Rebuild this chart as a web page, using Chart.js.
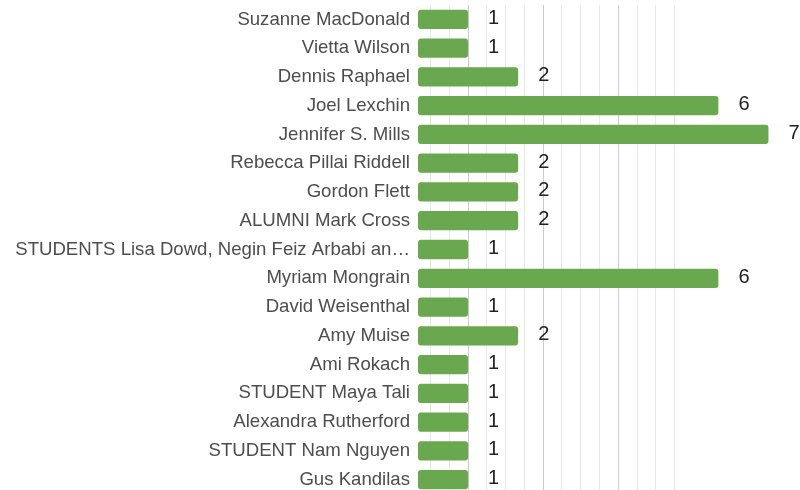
<!DOCTYPE html>
<html><head><meta charset="utf-8">
<script src="https://cdn.jsdelivr.net/npm/chart.js@4/dist/chart.umd.min.js"></script>
<style>html,body{margin:0;padding:0;background:#fff;overflow:hidden}</style>
</head><body><canvas id="c" width="800" height="494"></canvas>
<script>
const categories = ["Suzanne MacDonald","Vietta Wilson","Dennis Raphael","Joel Lexchin","Jennifer S. Mills","Rebecca Pillai Riddell","Gordon Flett","ALUMNI Mark Cross","STUDENTS Lisa Dowd, Negin Feiz Arbabi an\u2026","Myriam Mongrain","David Weisenthal","Amy Muise","Ami Rokach","STUDENT Maya Tali","Alexandra Rutherford","STUDENT Nam Nguyen","Gus Kandilas"];
const values = [1,1,2,6,7,2,2,2,1,6,1,2,1,1,1,1,1];
const gridValues = [0.25,0.625,1,1.375,1.75,2.125,2.5,2.875,3.25,3.625,4,4.375,4.75,5.125];
const majorGridValues = [1,2.5,4];

const valueLabels = {
  id:'valueLabels',
  afterDatasetsDraw(chart){
    const ctx = chart.ctx;
    const meta = chart.getDatasetMeta(0);
    ctx.save();
    ctx.font = '20px "Liberation Sans", Arial, sans-serif';
    ctx.fillStyle = '#222222';
    ctx.textAlign = 'left';
    ctx.textBaseline = 'middle';
    meta.data.forEach((bar,i)=>{
      ctx.fillText(String(values[i]), bar.x + 20, bar.y - 1);
    });
    ctx.restore();
  }
};

new Chart(document.getElementById('c'), {
  type:'bar',
  data:{labels:categories,datasets:[{data:values,backgroundColor:'#6aa84f',borderRadius:3,borderSkipped:false,barPercentage:0.67,categoryPercentage:1}]},
  options:{
    indexAxis:'y',responsive:false,animation:false,
    layout:{padding:{top:5,right:0,bottom:0,left:0},autoPadding:false},
    plugins:{legend:{display:false},tooltip:{enabled:false}},
    scales:{
      x:{min:0,max:7.63,
        afterBuildTicks(axis){axis.ticks = gridValues.map(v=>({value:v}));},
        afterFit(axis){axis.height=0;axis.paddingLeft=0;axis.paddingRight=0;axis.paddingTop=0;axis.paddingBottom=0;},
        ticks:{display:false},
        border:{display:false},
        grid:{drawTicks:false,color(ctx){return ctx.tick && majorGridValues.includes(ctx.tick.value)?'#cccccc':'#e8e8e8';},lineWidth:1}
      },
      y:{
        afterFit(axis){axis.width=418;axis.paddingTop=0;axis.paddingBottom=0;},
        grid:{display:false,drawTicks:false},
        border:{display:false},
        ticks:{color:'#4d4d4d',padding:8,autoSkip:false,font:{family:'"Liberation Sans", Arial, sans-serif',size:18.6}}
      }
    }
  },
  plugins:[valueLabels]
});
</script></body></html>
